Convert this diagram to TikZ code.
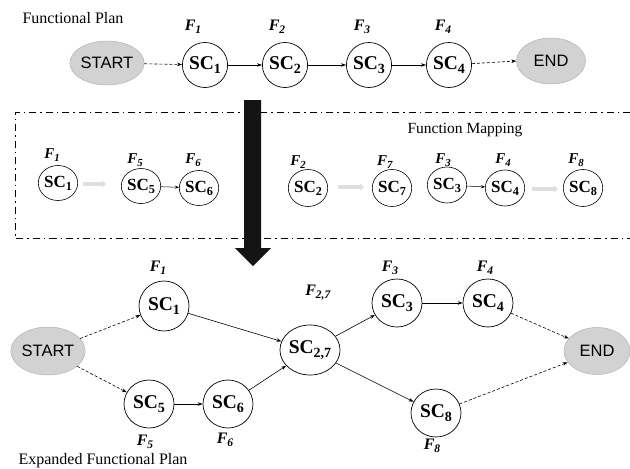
\documentclass[tikz,border=0pt]{standalone}
\usepackage{fontspec}
\setmainfont{Liberation Serif}
\newfontfamily\timesf{Liberation Serif}
\newfontfamily\arialf{Liberation Sans}
\usetikzlibrary{arrows.meta,shapes.geometric}
\newcommand\mysub[1]{\raisebox{-0.4ex}{\scalebox{0.72}{#1}}}
\newcommand\SC[1]{\textbf{SC\mysub{\textbf{#1}}}}
\newcommand\FL[1]{\textbf{\textit{F}\mysub{\textbf{\textit{#1}}}}}
\begin{document}
\begin{tikzpicture}[x=1pt,y=-1pt,
  term/.style={ellipse,fill=gray!35,draw=gray!60,line width=0.5pt,inner sep=0pt,font=\arialf\fontsize{16.5}{18}\selectfont},
  bigsc/.style={ellipse,draw,line width=0.7pt,inner sep=0pt,font=\timesf\fontsize{19.5}{21}\selectfont},
  midsc/.style={ellipse,draw,line width=0.6pt,inner sep=0pt,font=\timesf\fontsize{17}{19}\selectfont},
  flab/.style={inner sep=0pt,font=\timesf\fontsize{16}{18}\selectfont},
  flabs/.style={inner sep=0pt,font=\timesf\fontsize{15}{17}\selectfont},
  title/.style={inner sep=0pt,font=\timesf\fontsize{16}{18}\selectfont},
  conn/.style={line width=0.6pt,-{Stealth[length=5pt,width=3.5pt]}},
  dconn/.style={conn,dashed,dash pattern=on 3pt off 2pt},
  thinconn/.style={line width=0.5pt,-{Stealth[length=4pt,width=3pt]}},
  grayarr/.style={line width=4pt,draw=gray!25,-{Triangle[length=4pt,width=7pt]}},
  dashdot/.style={line width=1pt,dash pattern=on 7pt off 4pt on 1.5pt off 4pt}
]
\useasboundingbox (0,0) rectangle (630,469);

% ---------- top: functional plan ----------
\node[title] (t1) at (73,18) {Functional Plan};
\node[term,minimum width=69pt,minimum height=44pt] (st) at (107,63) {START};
\node[bigsc,minimum width=44pt,minimum height=45pt] (a1) at (205,65) {\SC{1}};
\node[bigsc,minimum width=44pt,minimum height=45pt] (a2) at (285,65) {\SC{2}};
\node[bigsc,minimum width=44pt,minimum height=45pt] (a3) at (369,65) {\SC{3}};
\node[bigsc,minimum width=43pt,minimum height=45pt] (a4) at (449,65) {\SC{4}};
\node[term,minimum width=69pt,minimum height=46pt] (en) at (551,61) {END};
\node[flab] (fa1) at (193,27) {\FL{1}};
\node[flab] (fa2) at (277,27) {\FL{2}};
\node[flab] (fa3) at (362,27) {\FL{3}};
\node[flab] (fa4) at (443,27) {\FL{4}};
\draw[dconn] (st) -- (a1);
\draw[conn] (a1) -- (a2);
\draw[conn] (a2) -- (a3);
\draw[conn] (a3) -- (a4);
\draw[dconn] (a4) -- (en.west);

% ---------- middle: function mapping ----------
\draw[dashdot] (630,112) -- (15,112) -- (15,238) -- (630,238);
\node[title,font=\timesf\fontsize{15.5}{17}\selectfont] (t2) at (465,130) {Function Mapping};

\node[midsc,minimum width=34pt,minimum height=35pt] (m1) at (58,183) {\SC{1}};
\node[midsc,minimum width=34pt,minimum height=35pt] (m5) at (141,186) {\SC{5}};
\node[midsc,minimum width=34pt,minimum height=35pt] (m6) at (199,188) {\SC{6}};
\node[midsc,minimum width=39pt,minimum height=37pt] (m2) at (308,188) {\SC{2}};
\node[midsc,minimum width=39pt,minimum height=37pt] (m7) at (392,188) {\SC{7}};
\node[midsc,minimum width=34pt,minimum height=36pt] (m3) at (447,185) {\SC{3}};
\node[midsc,minimum width=34pt,minimum height=36pt] (m4) at (505,188) {\SC{4}};
\node[midsc,minimum width=38pt,minimum height=37pt] (m8) at (583,188) {\SC{8}};

\node[flabs] (fm1) at (52,155) {\FL{1}};
\node[flabs] (fm5) at (135,160) {\FL{5}};
\node[flabs] (fm6) at (193,160) {\FL{6}};
\node[flabs] (fm2) at (298,162) {\FL{2}};
\node[flabs] (fm7) at (385,162) {\FL{7}};
\node[flabs] (fm3) at (443,160) {\FL{3}};
\node[flabs] (fm4) at (503,160) {\FL{4}};
\node[flabs] (fm8) at (576,160) {\FL{8}};

\coordinate (g1s) at (83,184); \coordinate (g1e) at (106,184);
\coordinate (g2s) at (338,187); \coordinate (g2e) at (364,187);
\coordinate (g3s) at (532,189); \coordinate (g3e) at (558,189);
\draw[grayarr] (g1s) -- (g1e);
\draw[grayarr] (g2s) -- (g2e);
\draw[grayarr] (g3s) -- (g3e);
\draw[thinconn] (m5) -- (m6);
\draw[thinconn] (m3) -- (m4);

% ---------- big black arrow ----------
\fill[black!92] (244,100) -- (261,100) -- (261,248) -- (271,248) -- (253,266) -- (235,248) -- (244,248) -- cycle;

% ---------- bottom: expanded functional plan ----------
\node[term,minimum width=69pt,minimum height=48pt] (bst) at (48,351) {START};
\node[bigsc,minimum width=50pt,minimum height=50pt] (b1) at (164,306) {\SC{1}};
\node[bigsc,minimum width=50pt,minimum height=48pt] (b5) at (149,404) {\SC{5}};
\node[bigsc,minimum width=50pt,minimum height=48pt] (b6) at (228,404) {\SC{6}};
\node[bigsc,minimum width=50pt,minimum height=50pt] (b27) at (310,350) {\SC{2,7}};
\node[bigsc,minimum width=50pt,minimum height=48pt] (b3) at (397,303) {\SC{3}};
\node[bigsc,minimum width=50pt,minimum height=48pt] (b4) at (488,303) {\SC{4}};
\node[bigsc,minimum width=50pt,minimum height=48pt] (b8) at (436,413) {\SC{8}};
\node[term,minimum width=66pt,minimum height=47pt] (ben) at (597,351) {END};

\node[flab] (fb1) at (158,268) {\FL{1}};
\node[flab] (fb27) at (318,293) {\FL{2,7}};
\node[flab] (fb3) at (390,268) {\FL{3}};
\node[flab] (fb4) at (485,268) {\FL{4}};
\node[flab] (fb5) at (145,442) {\FL{5}};
\node[flab] (fb6) at (225,440) {\FL{6}};
\node[flab] (fb8) at (432,446) {\FL{8}};
\node[title] (t3) at (103,461) {Expanded Functional Plan};

\draw[dconn] (bst) -- (b1);
\draw[dconn] (bst) -- (b5);
\draw[conn] (b5) -- (b6);
\draw[conn] (b1) -- (b27);
\draw[conn] (b6) -- (b27);
\draw[conn] (b27) -- (b3);
\draw[conn] (b27) -- (b8);
\draw[conn] (b3) -- (b4);
\draw[dconn] (b4) -- (ben);
\draw[dconn] (b8) -- (ben);
\end{tikzpicture}
\end{document}
